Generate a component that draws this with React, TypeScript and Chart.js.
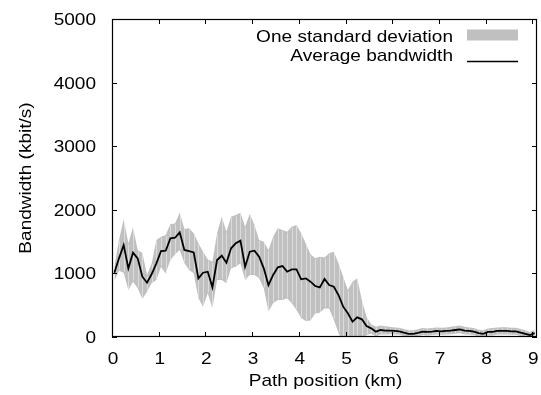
import React, { useEffect, useRef } from "react";
import { Chart, registerables } from "chart.js";

Chart.register(...registerables);

// Path position of each sample (km)
const positionKm = [
  0.05, 0.15, 0.25, 0.35, 0.45, 0.55, 0.65, 0.75, 0.85, 0.95,
  1.05, 1.15, 1.25, 1.35, 1.45, 1.55, 1.65, 1.75, 1.85, 1.95,
  2.05, 2.15, 2.25, 2.35, 2.45, 2.55, 2.65, 2.75, 2.85, 2.95,
  3.05, 3.15, 3.25, 3.35, 3.45, 3.55, 3.65, 3.75, 3.85, 3.95,
  4.05, 4.15, 4.25, 4.35, 4.45, 4.55, 4.65, 4.75, 4.85, 4.95,
  5.05, 5.15, 5.25, 5.35, 5.45, 5.55, 5.65, 5.75, 5.85, 5.95,
  6.05, 6.15, 6.25, 6.35, 6.45, 6.55, 6.65, 6.75, 6.85, 6.95,
  7.05, 7.15, 7.25, 7.35, 7.45, 7.55, 7.65, 7.75, 7.85, 7.95,
  8.05, 8.15, 8.25, 8.35, 8.45, 8.55, 8.65, 8.75, 8.85, 8.95,
  9.05,
];

// Average bandwidth (kbit/s)
const avgBandwidth = [
  1011, 1237, 1446, 1080, 1325, 1237, 948, 854, 990, 1159,
  1352, 1357, 1551, 1561, 1646, 1368, 1352, 1331, 922, 1011,
  1027, 781, 1210, 1278, 1168, 1394, 1473, 1514, 1105, 1341,
  1357, 1262, 1080, 817, 975, 1096, 1116, 1027, 1064, 1064,
  907, 922, 870, 802, 781, 912, 817, 791, 660, 477,
  372, 241, 309, 278, 173, 136, 84, 110, 100, 100,
  95, 90, 70, 50, 50, 65, 85, 80, 85, 95,
  90, 95, 100, 110, 120, 100, 95, 85, 60, 50,
  80, 80, 95, 95, 95, 90, 90, 70, 50, 30,
  60,
];

// Average + one standard deviation
const upperBandwidth = [
  1100, 1525, 1850, 1473, 1724, 1368, 1320, 975, 1160, 1525,
  1577, 1603, 1776, 1786, 1954, 1700, 1708, 1631, 1473, 1341,
  1221, 1184, 1630, 1891, 1656, 1891, 1918, 1954, 1734, 1938,
  1760, 1525, 1499, 1368, 1577, 1708, 1682, 1656, 1734, 1760,
  1630, 1470, 1300, 1240, 1262, 1250, 1315, 1341, 1159, 948,
  739, 870, 922, 582, 319, 200, 162, 180, 170, 160,
  150, 145, 125, 105, 105, 120, 140, 135, 140, 150,
  145, 150, 160, 170, 180, 160, 150, 140, 115, 105,
  135, 140, 150, 155, 155, 145, 145, 125, 105, 80,
  110,
];

// Average - one standard deviation
const lowerBandwidth = [
  880, 1040, 1010, 739, 870, 765, 597, 712, 844, 896,
  1105, 1000, 1210, 1300, 1368, 1163, 1053, 1001, 608, 477,
  687, 451, 896, 896, 844, 1080, 1105, 1159, 896, 975,
  975, 922, 765, 400, 530, 582, 582, 608, 530, 424,
  300, 250, 260, 370, 380, 450, 450, 267, 63, -100,
  -200, -300, -300, -30, 30, 50, 10, 40, 40, 45,
  40, 35, 15, -5, -5, 10, 30, 25, 30, 40,
  35, 40, 45, 50, 60, 40, 40, 30, 5, -5,
  25, 25, 40, 40, 40, 35, 35, 15, -5, -20,
  10,
];

const xTicks = [0, 1, 2, 3, 4, 5, 6, 7, 8, 9];
const yTicks = [0, 1000, 2000, 3000, 4000, 5000];

const X_TITLE = "Path position (km)";
const Y_TITLE = "Bandwidth (kbit/s)";
const LEGEND_BAND = "One standard deviation";
const LEGEND_LINE = "Average bandwidth";

const BAND_COLOR = "#c0c0c0";
const FONT = '17px "Liberation Sans", Arial, Helvetica, sans-serif';
const STRETCH = 1.12;
const TICK_LEN = 5;

function drawLabel(
  ctx: CanvasRenderingContext2D,
  text: string,
  x: number,
  y: number,
  align: CanvasTextAlign,
  rotated = false
) {
  ctx.save();
  ctx.translate(x, y);
  if (rotated) ctx.rotate(-Math.PI / 2);
  ctx.scale(STRETCH, 1);
  ctx.font = FONT;
  ctx.fillStyle = "#000";
  ctx.textAlign = align;
  ctx.textBaseline = "alphabetic";
  ctx.fillText(text, 0, 0);
  ctx.restore();
}

// Light seams across the deviation band at every sample
const bandSeams = {
  id: "bandSeams",
  afterDatasetDraw(chart: any, args: any) {
    if (args.index !== 0) return;
    const { ctx, chartArea, scales } = chart;
    ctx.save();
    ctx.beginPath();
    ctx.rect(chartArea.left, chartArea.top, chartArea.right - chartArea.left, chartArea.bottom - chartArea.top);
    ctx.clip();
    ctx.strokeStyle = "rgba(255,255,255,0.45)";
    ctx.lineWidth = 1;
    positionKm.forEach((km, i) => {
      const px = Math.round(scales.x.getPixelForValue(km)) + 0.5;
      const top = scales.y.getPixelForValue(upperBandwidth[i]);
      const bottom = scales.y.getPixelForValue(lowerBandwidth[i]);
      ctx.beginPath();
      ctx.moveTo(px, top + 1);
      ctx.lineTo(px, bottom - 1);
      ctx.stroke();
    });
    ctx.restore();
  },
};

// Frame, inward ticks, labels and key
const frameAndText = {
  id: "frameAndText",
  afterDraw(chart: any) {
    const { ctx, chartArea, scales } = chart;
    const { left, right, top, bottom } = chartArea;
    ctx.save();
    ctx.strokeStyle = "#000";
    ctx.lineWidth = 1.2;
    ctx.strokeRect(left + 0.5, top + 0.5, right - left - 1, bottom - top - 1);

    ctx.lineWidth = 1;
    ctx.beginPath();
    xTicks.forEach((v) => {
      const px = Math.round(scales.x.getPixelForValue(v)) + 0.5;
      ctx.moveTo(px, bottom);
      ctx.lineTo(px, bottom - TICK_LEN);
      ctx.moveTo(px, top);
      ctx.lineTo(px, top + TICK_LEN);
    });
    yTicks.forEach((v) => {
      const py = Math.round(scales.y.getPixelForValue(v)) + 0.5;
      ctx.moveTo(left, py);
      ctx.lineTo(left + TICK_LEN, py);
      ctx.moveTo(right, py);
      ctx.lineTo(right - TICK_LEN, py);
    });
    ctx.stroke();
    ctx.restore();

    xTicks.forEach((v) => {
      drawLabel(ctx, String(v), scales.x.getPixelForValue(v) + 1, bottom + 26.5, "center");
    });
    yTicks.forEach((v) => {
      drawLabel(ctx, String(v), left - 16, scales.y.getPixelForValue(v) + 6, "right");
    });

    drawLabel(ctx, X_TITLE, (left + right) / 2 + 1, bottom + 49, "center");
    drawLabel(ctx, Y_TITLE, 31, (top + bottom) / 2, "center", true);

    // key
    const keyTextRight = 453;
    const sampleLeft = 467;
    const sampleRight = 518;
    drawLabel(ctx, LEGEND_BAND, keyTextRight, 41.5, "right");
    ctx.save();
    ctx.fillStyle = BAND_COLOR;
    ctx.fillRect(sampleLeft, 29.5, sampleRight - sampleLeft, 11);
    ctx.restore();
    drawLabel(ctx, LEGEND_LINE, keyTextRight, 60.5, "right");
    ctx.save();
    ctx.strokeStyle = "#000";
    ctx.lineWidth = 1.5;
    ctx.beginPath();
    ctx.moveTo(sampleLeft, 61.5);
    ctx.lineTo(sampleRight, 61.5);
    ctx.stroke();
    ctx.restore();
  },
};

export default function App() {
  const canvasRef = useRef<HTMLCanvasElement | null>(null);

  useEffect(() => {
    const canvas = canvasRef.current;
    if (!canvas) return;
    const toPoints = (values: number[]) => values.map((y, i) => ({ x: positionKm[i], y }));

    const chart = new Chart(canvas, {
      type: "line",
      data: {
        datasets: [
          {
            label: "upper",
            data: toPoints(upperBandwidth),
            borderWidth: 0,
            borderColor: "rgba(0,0,0,0)",
            backgroundColor: BAND_COLOR,
            pointRadius: 0,
            fill: "+1",
            tension: 0,
            order: 1,
          },
          {
            label: "lower",
            data: toPoints(lowerBandwidth),
            borderWidth: 0,
            borderColor: "rgba(0,0,0,0)",
            pointRadius: 0,
            fill: false,
            tension: 0,
            order: 2,
          },
          {
            label: LEGEND_LINE,
            data: toPoints(avgBandwidth),
            borderColor: "#000",
            borderWidth: 1.8,
            pointRadius: 0,
            fill: false,
            tension: 0,
            order: 0,
          },
        ],
      },
      options: {
        animation: false,
        responsive: false,
        maintainAspectRatio: false,
        devicePixelRatio: 1,
        layout: { padding: { left: 112, top: 19, right: 4, bottom: 58 } },
        scales: {
          x: { type: "linear", min: 0, max: 9.1, display: false },
          y: { type: "linear", min: 0, max: 5000, display: false },
        },
        plugins: {
          legend: { display: false },
          tooltip: { enabled: false },
        },
      },
      plugins: [bandSeams, frameAndText],
    });

    return () => chart.destroy();
  }, []);

  return (
    <div style={{ position: "fixed", left: 0, top: 0, width: 541, height: 395, background: "#fff" }}>
      <canvas ref={canvasRef} width={541} height={395} style={{ display: "block" }} />
    </div>
  );
}
